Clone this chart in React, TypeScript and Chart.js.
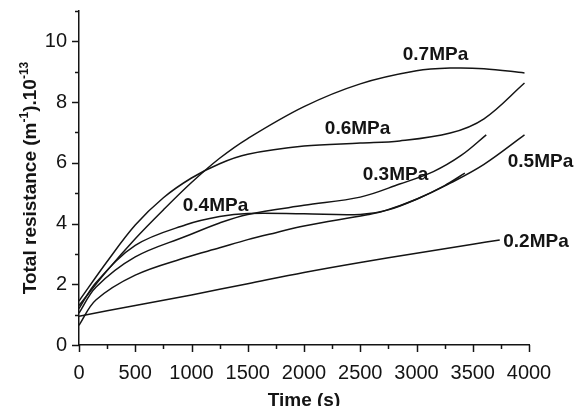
import React, { useEffect, useRef } from "react";
import { Chart, registerables } from "chart.js";

Chart.register(...registerables);

// ---- data (time in s, total resistance in m^-1 x 10^-13) ----
const t07 = [0, 250, 500, 750, 1000, 1250, 1500, 2000, 2500, 3000, 3300, 3600, 3960];
const r07 = [1.3, 2.45, 3.5, 4.45, 5.35, 6.15, 6.8, 7.85, 8.6, 9.03, 9.12, 9.1, 8.96];

const t06 = [0, 250, 500, 750, 1000, 1250, 1500, 2000, 2500, 2850, 3300, 3600, 3960];
const r06 = [1.45, 2.75, 3.95, 4.85, 5.5, 5.97, 6.28, 6.55, 6.65, 6.72, 6.98, 7.45, 8.63];

const t04 = [0, 150, 500, 950, 1250, 1500, 2000, 2500, 2750, 3000, 3250, 3430];
const r04 = [1.2, 2.05, 3.28, 3.96, 4.23, 4.33, 4.32, 4.3, 4.45, 4.8, 5.25, 5.66];

const t03 = [0, 150, 500, 950, 1250, 1500, 2000, 2500, 2850, 3150, 3400, 3620];
const r03 = [1.05, 1.9, 2.9, 3.58, 4.02, 4.3, 4.6, 4.87, 5.3, 5.71, 6.25, 6.92];

const t05 = [0, 150, 500, 950, 1250, 1500, 1750, 2000, 2550, 2700, 3000, 3300, 3600, 3960];
const r05 = [0.65, 1.48, 2.3, 2.88, 3.2, 3.47, 3.7, 3.92, 4.28, 4.4, 4.8, 5.33, 5.95, 6.92];

const t02 = [0, 500, 1000, 1500, 2000, 2500, 3000, 3500, 3740];
const r02 = [0.95, 1.3, 1.65, 2.02, 2.39, 2.72, 3.02, 3.32, 3.46];

const seriesNames = ["0.7MPa", "0.6MPa", "0.4MPa", "0.3MPa", "0.5MPa", "0.2MPa"];
const seriesTimes = [t07, t06, t04, t03, t05, t02];
const seriesValues = [r07, r06, r04, r03, r05, r02];

// curve label anchors, in data coordinates
const labelTexts = ["0.7MPa", "0.6MPa", "0.3MPa", "0.5MPa", "0.4MPa", "0.2MPa"];
const labelX = [3169, 2476, 2813, 4102, 1213, 4062];
const labelY = [9.56, 7.12, 5.6, 6.05, 4.6, 3.41];

const xMin = 0, xMax = 4000, xMajor = 500, xMinor = 250;
const yMin = 0, yMax = 11, yMajor = 2, yMinor = 1;

const xTitle = "Time (s)";
const yTitleParts: [string, boolean][] = [
  ["Total resistance (m", false],
  ["-1", true],
  [").10", false],
  ["-13", true],
];

const INK = "#141414";
const FONT = "'Liberation Sans', Arial, Helvetica, sans-serif";

const overlayPlugin = {
  id: "overlay",
  afterDraw(chart: any) {
    const ctx: CanvasRenderingContext2D = chart.ctx;
    const xs = chart.scales.x;
    const ys = chart.scales.y;
    const area = chart.chartArea;
    ctx.save();
    ctx.strokeStyle = INK;
    ctx.lineWidth = 1.5;
    // x ticks (outward)
    for (let v = xMin; v <= xMax + 0.001; v += xMinor) {
      const px = Math.round(xs.getPixelForValue(v)) + 0.5;
      const len = Math.abs(v % xMajor) < 0.001 ? 7 : 4;
      ctx.beginPath();
      ctx.moveTo(px, area.bottom);
      ctx.lineTo(px, area.bottom + len);
      ctx.stroke();
    }
    // y ticks (outward)
    for (let v = yMin; v <= yMax + 0.001; v += yMinor) {
      const py = Math.round(ys.getPixelForValue(v)) + 0.5;
      const len = Math.abs(v % yMajor) < 0.001 ? 7 : 4;
      ctx.beginPath();
      ctx.moveTo(area.left, py);
      ctx.lineTo(area.left - len, py);
      ctx.stroke();
    }
    // curve labels
    ctx.fillStyle = INK;
    ctx.font = `bold 19px ${FONT}`;
    ctx.textAlign = "center";
    ctx.textBaseline = "middle";
    labelTexts.forEach((txt, i) => {
      ctx.fillText(txt, xs.getPixelForValue(labelX[i]), ys.getPixelForValue(labelY[i]));
    });
    // x title
    ctx.textBaseline = "alphabetic";
    ctx.fillText(xTitle, (area.left + area.right) / 2, chart.height - 0.5);
    // y title (rotated, with superscripts)
    const mainFont = `bold 19px ${FONT}`;
    const supFont = `bold 12px ${FONT}`;
    let total = 0;
    const widths = yTitleParts.map(([s, sup]) => {
      ctx.font = sup ? supFont : mainFont;
      const w = ctx.measureText(s).width;
      total += w;
      return w;
    });
    ctx.translate(35.5, (area.top + area.bottom) / 2);
    ctx.rotate(-Math.PI / 2);
    ctx.textAlign = "left";
    let cx = -total / 2;
    yTitleParts.forEach(([s, sup], i) => {
      ctx.font = sup ? supFont : mainFont;
      ctx.fillText(s, cx, sup ? -8 : 0);
      cx += widths[i];
    });
    ctx.restore();
  },
};

export default function App() {
  const canvasRef = useRef<HTMLCanvasElement | null>(null);

  useEffect(() => {
    if (!canvasRef.current) return;
    const datasets = seriesNames.map((name, i) => ({
      label: name,
      data: seriesTimes[i].map((t, j) => ({ x: t, y: seriesValues[i][j] })),
      borderColor: INK,
      borderWidth: 1.5,
      pointRadius: 0,
      fill: false,
      tension: 0.35,
    }));
    const chart = new Chart(canvasRef.current, {
      type: "line",
      data: { datasets },
      options: {
        responsive: false,
        animation: false,
        devicePixelRatio: 1,
        layout: { padding: { left: 0, right: 49, top: 11, bottom: 0 } },
        plugins: { legend: { display: false }, tooltip: { enabled: false } },
        scales: {
          x: {
            type: "linear",
            min: xMin,
            max: xMax,
            grid: { display: false },
            border: { display: true, color: INK, width: 1.5 },
            ticks: {
              stepSize: xMajor,
              autoSkip: false,
              maxRotation: 0,
              padding: 8,
              color: INK,
              font: { family: FONT, size: 20 },
              callback: (v: any) => String(v),
            },
            afterFit: (s: any) => {
              s.height = 61;
              s.paddingLeft = 0;
              s.paddingRight = 0;
            },
          },
          y: {
            type: "linear",
            min: yMin,
            max: yMax,
            grid: { display: false },
            border: { display: true, color: INK, width: 1.5 },
            ticks: {
              stepSize: yMinor,
              autoSkip: false,
              padding: 4,
              color: INK,
              font: { family: FONT, size: 20 },
              callback: (v: any) => (Number(v) % yMajor === 0 ? String(v) : ""),
            },
            afterFit: (s: any) => {
              s.width = 79;
              s.paddingTop = 0;
              s.paddingBottom = 0;
            },
          },
        },
      },
      plugins: [overlayPlugin],
    });
    return () => chart.destroy();
  }, []);

  return (
    <div style={{ position: "absolute", left: 0, top: 0, width: 578, height: 406, background: "#fff" }}>
      <canvas ref={canvasRef} width={578} height={406} />
    </div>
  );
}
